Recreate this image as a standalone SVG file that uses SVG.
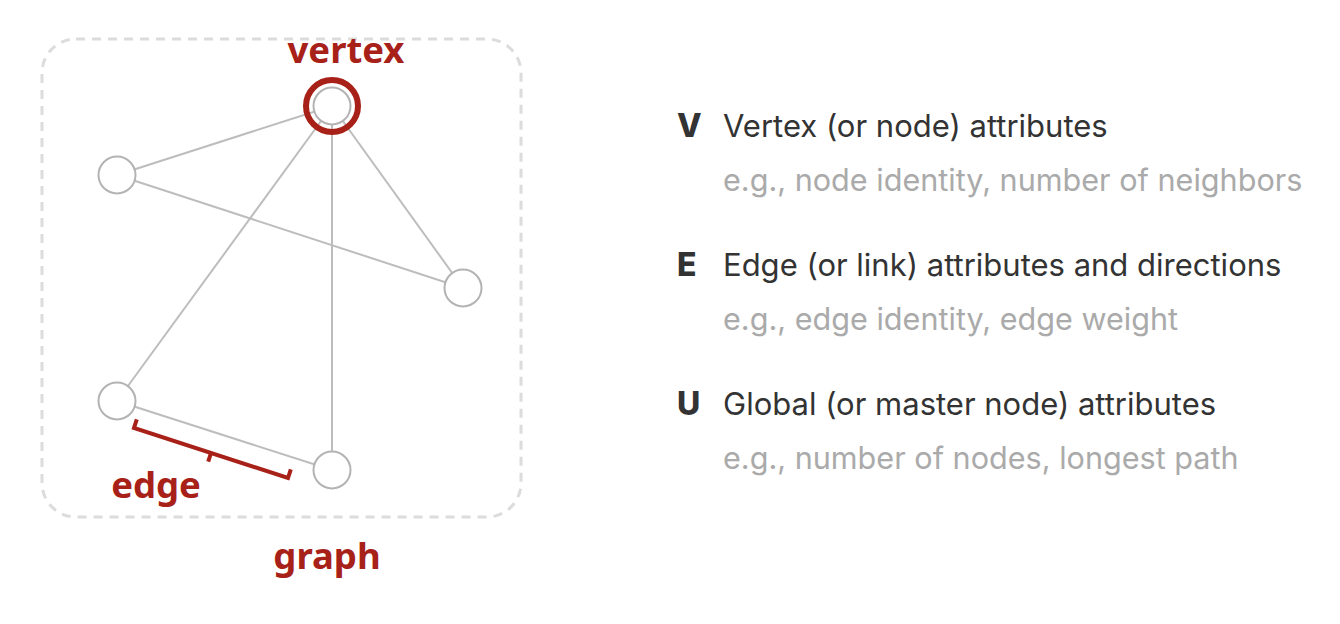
<svg xmlns="http://www.w3.org/2000/svg" width="1340" height="624" viewBox="0 0 1340 624">
  <style>
    .frame { fill: none; stroke: #DCDCDC; stroke-width: 3; stroke-dasharray: 9 7; }
    .edge { stroke: #BDBDBD; stroke-width: 2; fill: none; }
    .node { fill: #FFFFFF; stroke: #B3B3B3; stroke-width: 2; }
    .hl { fill: none; stroke: #A82119; stroke-width: 6; }
    .bracket { fill: none; stroke: #A82119; stroke-width: 4; stroke-linejoin: miter; stroke-linecap: butt; }
    .lbl { font-family: "Noto Sans", "Open Sans", sans-serif; font-weight: 700; font-size: 36.5px; fill: #A82119; }
    .key { font-family: Inter, "Liberation Sans", sans-serif; font-weight: 800; font-size: 32px; fill: #333333; }
    .title { font-family: Inter, "Liberation Sans", sans-serif; font-size: 31px; fill: #333333; }
    .sub { font-family: Inter, "Liberation Sans", sans-serif; font-size: 30.6px; fill: #AAAAAA; }
  </style>

  <!-- graph boundary -->
  <rect id="graph-frame" class="frame" x="42" y="39" width="479" height="478" rx="34" ry="34"/>

  <!-- connectors -->
  <g id="edges">
    <line class="edge" x1="332" y1="106" x2="117" y2="175"/>
    <line class="edge" x1="332" y1="106" x2="463" y2="288"/>
    <line class="edge" x1="332" y1="106" x2="117" y2="401"/>
    <line class="edge" x1="332" y1="106" x2="332" y2="470"/>
    <line class="edge" x1="117" y1="175" x2="463" y2="288"/>
    <line class="edge" x1="117" y1="401" x2="332" y2="470"/>
  </g>

  <!-- vertices -->
  <g id="node-top">
    <circle class="node" cx="332" cy="106" r="18.5"/>
    <circle class="hl" cx="332" cy="106" r="26"/>
  </g>
  <g id="node-left">
    <circle class="node" cx="117" cy="175" r="18.5"/>
  </g>
  <g id="node-right">
    <circle class="node" cx="463" cy="288" r="18.5"/>
  </g>
  <g id="node-bottom-left">
    <circle class="node" cx="117" cy="401" r="18.5"/>
  </g>
  <g id="node-bottom-right">
    <circle class="node" cx="332" cy="470" r="18.5"/>
  </g>

  <!-- edge bracket -->
  <g id="edge-bracket">
    <path class="bracket" d="M 136.8 419.4 L 134 428 L 288 478 L 290.8 469.4"/>
    <path class="bracket" d="M 211 453 L 208.2 461.6"/>
  </g>

  <!-- labels -->
  <g id="labels">
    <text class="lbl" x="346" y="63" text-anchor="middle">vertex</text>
    <text class="lbl" x="156" y="498" text-anchor="middle">edge</text>
    <text class="lbl" x="327" y="569" text-anchor="middle">graph</text>
  </g>

  <!-- attribute legend -->
  <g id="legend-v">
    <text class="key" x="677" y="137">V</text>
    <text class="title" x="723" y="137">Vertex (or node) attributes</text>
    <text class="sub" x="723" y="191">e.g., node identity, number of neighbors</text>
  </g>
  <g id="legend-e">
    <text class="key" x="677" y="276">E</text>
    <text class="title" x="723" y="276">Edge (or link) attributes and directions</text>
    <text class="sub" x="723" y="330">e.g., edge identity, edge weight</text>
  </g>
  <g id="legend-u">
    <text class="key" x="677" y="415">U</text>
    <text class="title" x="723" y="415">Global (or master node) attributes</text>
    <text class="sub" x="723" y="469">e.g., number of nodes, longest path</text>
  </g>
</svg>
